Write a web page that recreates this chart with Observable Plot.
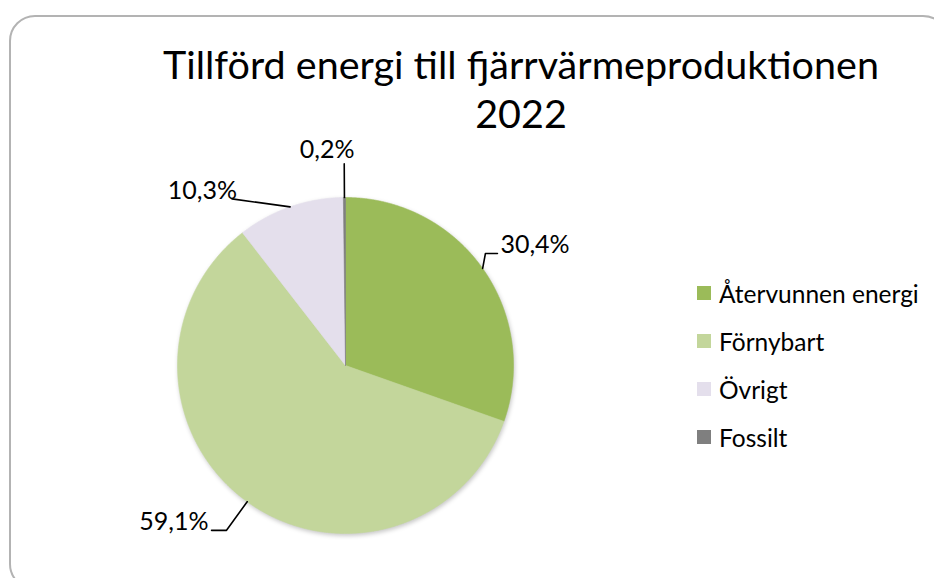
<!DOCTYPE html>
<html>
<head>
<meta charset="utf-8">
<script src="https://cdn.jsdelivr.net/npm/d3@7"></script>
<script src="https://cdn.jsdelivr.net/npm/@observablehq/plot@0.6"></script>
<style>
  html, body { margin: 0; padding: 0; background: #fff; }
  #wrap { position: relative; width: 934px; height: 578px; overflow: hidden; font-family: Lato, "Noto Sans", sans-serif; color: #000; }
  #frame { position: absolute; left: 9px; top: 15px; width: 940px; height: 575px; border: 2px solid #b3b3b3; border-radius: 26px; box-sizing: border-box; }
  #title { position: absolute; left: 100px; width: 842px; top: 39px; text-align: center; font-size: 39.5px; line-height: 49px; }
  #chart { position: absolute; left: 0; top: 0; }
  #legend { position: absolute; left: 697px; top: 269px; }
  .item { display: flex; align-items: center; height: 48px; font-size: 24.5px; }
  .sw { width: 14px; height: 14px; margin-right: 8px; }
</style>
</head>
<body>
<div id="wrap">
  <div id="frame"></div>
  <div id="chart"></div>
  <div id="title">Tillförd energi till fjärrvärmeproduktionen<br>2022</div>
  <div id="legend"></div>
</div>
<script>
// ---- data ----
const names  = ["Återvunnen energi", "Förnybart", "Övrigt", "Fossilt"];
const shares = [30.4, 59.1, 10.3, 0.2];
const labels = ["30,4%", "59,1%", "10,3%", "0,2%"];
const colors = ["#9BBB59", "#C3D69B", "#E4DFEC", "#7F7F7F"];

// ---- label layout (radius factor, angle shift in degrees, leader segment px, text gap px) ----
const labelRadius = [1.067, 1.21, 1.2, 1.2];
const labelShift  = [-3.4, 0, -15, 0];
const labelSeg    = [12, 15, 0, 0];
const labelGap    = [3, 3, -5, 6];

const R = 168; // pixels per unit radius
const rows = names.map((n, i) => ({name: n, share: shares[i], label: labels[i], i}));
const arcs = d3.pie().sort(null).value(d => d.share)(rows);

// slice polygons
const slicePts = [];
for (const a of arcs) {
  slicePts.push({name: a.data.name, x: 0, y: 0});
  const n = Math.max(2, Math.ceil((a.endAngle - a.startAngle) / 0.004));
  for (let k = 0; k <= n; k++) {
    const t = a.startAngle + (a.endAngle - a.startAngle) * k / n;
    slicePts.push({name: a.data.name, x: Math.sin(t), y: Math.cos(t)});
  }
  slicePts.push({name: a.data.name, x: 0, y: 0});
}

// leader lines and label anchor points
const leaderPts = [];
const textPts = [];
for (const a of arcs) {
  const i = a.data.i;
  const m = (a.startAngle + a.endAngle) / 2;
  const e = m + labelShift[i] * Math.PI / 180;
  const ax = Math.sin(m), ay = Math.cos(m);
  const ex = labelRadius[i] * Math.sin(e), ey = labelRadius[i] * Math.cos(e);
  const side = Math.abs(Math.sin(e)) < 0.1 ? "top" : (Math.sin(e) > 0 ? "right" : "left");
  const dir = side === "right" ? 1 : side === "left" ? -1 : 0;
  const hx = ex + dir * labelSeg[i] / R;
  leaderPts.push({name: a.data.name, x: ax, y: ay});
  leaderPts.push({name: a.data.name, x: ex, y: ey});
  if (labelSeg[i] > 0) leaderPts.push({name: a.data.name, x: hx, y: ey});
  if (side === "top") {
    textPts.push({side, label: a.data.label, x: ex, y: ey + labelGap[i] / R});
  } else {
    textPts.push({side, label: a.data.label, x: hx + dir * labelGap[i] / R, y: ey});
  }
}

const plot = Plot.plot({
  width: 934,
  height: 578,
  margin: 0,
  x: {domain: [-1, 1], range: [345 - R, 345 + R], axis: null},
  y: {domain: [-1, 1], range: [365 + R, 365 - R], axis: null},
  color: {domain: names, range: colors},
  style: {fontFamily: "Lato, 'Noto Sans', sans-serif", background: "transparent"},
  marks: [
    Plot.line(slicePts, {x: "x", y: "y", z: "name", fill: "name", stroke: "name", strokeWidth: 0.6, curve: "linear"}),
    Plot.line(leaderPts, {x: "x", y: "y", z: "name", stroke: "#000", strokeWidth: 1.6, curve: "linear"}),
    Plot.text(textPts.filter(d => d.side === "right"), {x: "x", y: "y", text: "label", textAnchor: "start", lineAnchor: "middle", dy: -8, fontSize: 25, fill: "#000"}),
    Plot.text(textPts.filter(d => d.side === "left"), {x: "x", y: "y", text: "label", textAnchor: "end", lineAnchor: "middle", dy: -8, fontSize: 25, fill: "#000"}),
    Plot.text(textPts.filter(d => d.side === "top"), {x: "x", y: "y", text: "label", textAnchor: "middle", lineAnchor: "bottom", dx: -17, fontSize: 25, fill: "#000"})
  ]
});
document.getElementById("chart").appendChild(plot);
// subtle shadow on the pie
const firstLine = plot.querySelector('g[aria-label="line"]');
if (firstLine) firstLine.style.filter = "drop-shadow(1px 2px 2px rgba(0,0,0,0.22))";

// legend
const legend = d3.select("#legend");
names.forEach((n, i) => {
  const it = legend.append("div").attr("class", "item");
  it.append("div").attr("class", "sw").style("background", colors[i]);
  it.append("span").text(n);
});
</script>
</body>
</html>
